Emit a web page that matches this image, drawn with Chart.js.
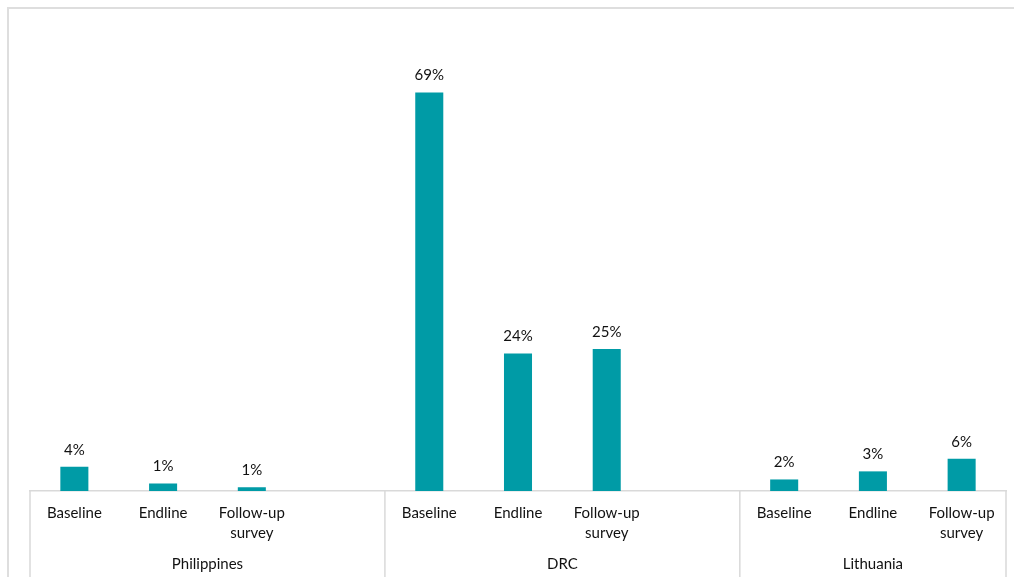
<!DOCTYPE html>
<html>
<head>
<meta charset="utf-8">
<script src="https://cdn.jsdelivr.net/npm/chart.js@4.4.0/dist/chart.umd.min.js"></script>
<style>
  html, body { margin: 0; padding: 0; background: #fff; width: 1014px; height: 577px; overflow: hidden; }
  #frame { position: absolute; left: 7px; top: 7px; width: 1100px; height: 700px; border: 2px solid #dedede; box-sizing: border-box; }
  #c { position: absolute; left: 0; top: 0; }
</style>
</head>
<body>
<div id="frame"></div>
<canvas id="c" width="1014" height="577"></canvas>
<script>
// ---- data ----
const groups = ["Philippines", "DRC", "Lithuania"];
const rounds = ["Baseline", "Endline", ["Follow-up", "survey"]];
const philippines = [4.2, 1.3, 0.65];
const drc = [69, 23.8, 24.6];
const lithuania = [2.0, 3.4, 5.6];

// build category slots (empty spacer slot between groups)
const groupValues = [philippines, drc, lithuania];
const labels = [];
const values = [];
const groupOf = [];
groupValues.forEach((vals, g) => {
  rounds.forEach((r, i) => { labels.push(r); values.push(vals[i]); groupOf.push(g); });
  if (g < groupValues.length - 1) { labels.push(""); values.push(null); groupOf.push(g); }
});

const FONT = "Lato, 'Open Sans', sans-serif";
const TEXT = "#111111";
const LINE = "#d9d9d9";

const groupPlugin = {
  id: "groupAxis",
  afterDraw(chart) {
    const ctx = chart.ctx;
    const x = chart.scales.x;
    const area = chart.chartArea;
    const n = labels.length;
    const half = (x.getPixelForValue(1) - x.getPixelForValue(0)) / 2;
    const bounds = [];
    let start = 0;
    for (let i = 0; i <= n; i++) {
      if (i === n || (i > 0 && groupOf[i] !== groupOf[i - 1])) {
        bounds.push([start, i - 1]);
        start = i;
      }
    }
    ctx.save();
    ctx.strokeStyle = LINE;
    ctx.lineWidth = 1.5;
    const edges = [x.getPixelForValue(0) - half];
    bounds.forEach(b => edges.push(x.getPixelForValue(b[1]) + half));
    edges.forEach(px => {
      ctx.beginPath();
      ctx.moveTo(px, area.bottom);
      ctx.lineTo(px, chart.height);
      ctx.stroke();
    });
    ctx.fillStyle = TEXT;
    ctx.font = "15px " + FONT;
    ctx.textAlign = "center";
    ctx.textBaseline = "middle";
    bounds.forEach((b, g) => {
      const l = x.getPixelForValue(b[0]) - half;
      const r = x.getPixelForValue(b[1]) + half;
      ctx.fillText(groups[g], (l + r) / 2, area.bottom + 73);
    });
    const meta = chart.getDatasetMeta(0);
    meta.data.forEach((bar, i) => {
      const v = values[i];
      if (v === null || v === undefined) return;
      ctx.fillText(Math.round(v) + "%", bar.x, bar.y - 17);
    });
    ctx.restore();
  }
};

new Chart(document.getElementById("c"), {
  type: "bar",
  data: {
    labels: labels,
    datasets: [{
      data: values,
      backgroundColor: "#009ba6",
      borderWidth: 0,
      barPercentage: 0.4,
      categoryPercentage: 0.79
    }]
  },
  options: {
    responsive: false,
    animation: false,
    devicePixelRatio: 1,
    layout: { padding: { top: 29, left: 30, right: 8, bottom: 0 } },
    plugins: { legend: { display: false }, tooltip: { enabled: false } },
    scales: {
      y: { display: false, min: 0, max: 80 },
      x: {
        grid: { display: false, drawTicks: false },
        border: { display: true, color: LINE, width: 1.5 },
        ticks: {
          color: TEXT,
          font: { family: FONT, size: 15, lineHeight: 1.33 },
          padding: 12,
          maxRotation: 0,
          autoSkip: false
        },
        afterFit(scale) { scale.height = 86; }
      }
    }
  },
  plugins: [groupPlugin]
});
</script>
</body>
</html>
